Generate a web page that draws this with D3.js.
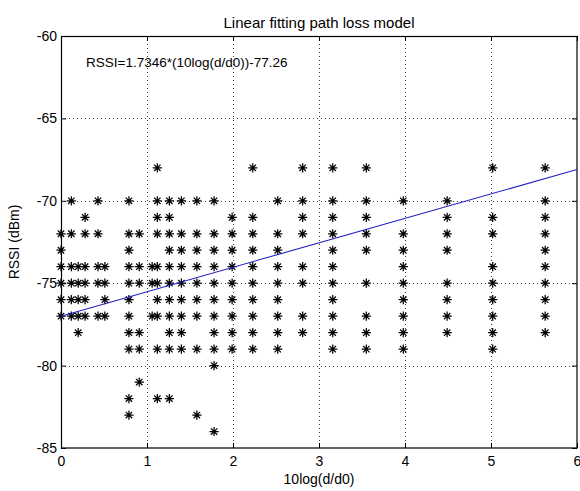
<!DOCTYPE html>
<html>
<head>
<meta charset="utf-8">
<script src="https://cdn.jsdelivr.net/npm/d3@7"></script>
<style>
  html, body { margin: 0; padding: 0; background: #ffffff; }
  svg { display: block; }
  text { font-family: "Liberation Sans", Arial, Helvetica, sans-serif; fill: #000; }
</style>
</head>
<body>
<svg id="chart" width="580" height="491"></svg>
<script>
// ---- Data ----
const titleText = "Linear fitting path loss model";
const xLabelText = "10log(d/d0)";
const yLabelText = "RSSI (dBm)";
const equationText = "RSSI=1.7346*(10log(d/d0))-77.26";

const xTicks = [0, 1, 2, 3, 4, 5, 6];
const yTicks = [-85, -80, -75, -70, -65, -60];

// distinct 10log(d/d0) positions of the measurement columns
const xValues = [0, 0.12, 0.20, 0.28, 0.43, 0.51, 0.79, 0.91, 1.06, 1.12, 1.26, 1.40,
                 1.58, 1.78, 1.99, 2.23, 2.52, 2.81, 3.16, 3.55, 3.98, 4.49, 5.02, 5.63];
// RSSI values observed at each column (same order as xValues)
const rssiValues = [
  [-72, -73, -74, -75, -76, -77],
  [-70, -72, -74, -75, -76, -77],
  [-74, -75, -76, -77, -78],
  [-71, -72, -74, -75, -76, -77],
  [-70, -72, -74, -75, -77],
  [-74, -75, -76, -77],
  [-70, -72, -73, -74, -75, -76, -77, -78, -79, -82, -83],
  [-72, -74, -75, -78, -79, -81],
  [-74, -75, -77],
  [-68, -70, -71, -72, -74, -75, -76, -77, -79, -82],
  [-70, -71, -72, -73, -74, -75, -76, -77, -78, -79, -82],
  [-70, -72, -73, -74, -75, -76, -77, -78, -79],
  [-70, -72, -73, -74, -75, -76, -77, -79, -83],
  [-70, -72, -73, -74, -75, -76, -77, -78, -79, -80, -84],
  [-71, -72, -73, -74, -75, -76, -77, -78, -79],
  [-68, -71, -72, -73, -74, -75, -76, -77, -78, -79],
  [-70, -72, -73, -74, -75, -76, -77, -78, -79],
  [-68, -70, -71, -72, -74, -75, -77, -78],
  [-68, -70, -71, -72, -73, -74, -75, -76, -77, -78, -79],
  [-68, -70, -71, -72, -73, -75, -77, -78, -79],
  [-70, -72, -73, -74, -75, -76, -77, -78, -79],
  [-70, -71, -72, -73, -75, -76, -77, -78],
  [-68, -71, -72, -74, -75, -76, -77, -78, -79],
  [-68, -70, -71, -72, -73, -74, -75, -76, -77, -78]
];

// fitted line as drawn in the picture (end points)
const fitX = [0, 6];
const fitY = [-77.0, -68.1];

// ---- Layout ----
const W = 580, H = 491;
const margin = { left: 61, right: 3, top: 36, bottom: 43 };
const pw = W - margin.left - margin.right;
const ph = H - margin.top - margin.bottom;

const svg = d3.select("#chart");
const g = svg.append("g").attr("transform", `translate(${margin.left},${margin.top})`);

const x = d3.scaleLinear().domain([0, 6]).range([0, pw]);
const y = d3.scaleLinear().domain([-85, -60]).range([ph, 0]);

const fmt = v => String(v); // plain hyphen-minus like the reference

// white plot background
g.append("rect").attr("width", pw).attr("height", ph).attr("fill", "#fff");

// dotted grid
const grid = g.append("g").attr("stroke", "#000").attr("stroke-width", 1)
  .attr("stroke-dasharray", "1,3").attr("opacity", 0.75);
grid.selectAll(".gx").data(xTicks.slice(1, -1)).enter().append("line")
  .attr("x1", d => Math.round(x(d)) + 0.5).attr("x2", d => Math.round(x(d)) + 0.5)
  .attr("y1", 0).attr("y2", ph);
grid.selectAll(".gy").data(yTicks.slice(1, -1)).enter().append("line")
  .attr("y1", d => Math.round(y(d)) + 0.5).attr("y2", d => Math.round(y(d)) + 0.5)
  .attr("x1", 0).attr("x2", pw);

// axes
const tickLen = 5;
const xAxis = d3.axisBottom(x).tickValues(xTicks).tickFormat(fmt)
  .tickSizeInner(-tickLen).tickSizeOuter(0).tickPadding(8);
const yAxis = d3.axisLeft(y).tickValues(yTicks).tickFormat(fmt)
  .tickSizeInner(-tickLen).tickSizeOuter(0).tickPadding(4);
const xAxisTop = d3.axisTop(x).tickValues(xTicks).tickFormat("")
  .tickSizeInner(-tickLen).tickSizeOuter(0);
const yAxisRight = d3.axisRight(y).tickValues(yTicks).tickFormat("")
  .tickSizeInner(-tickLen).tickSizeOuter(0);

function styleAxis(sel) {
  sel.select(".domain").remove();
  sel.selectAll("line").attr("stroke", "#000");
  sel.selectAll("text").attr("font-size", 14).attr("fill", "#000")
    .style("font-family", '"Liberation Sans", Arial, sans-serif');
}
g.append("g").attr("transform", `translate(0,${ph})`).call(xAxis).call(styleAxis);
g.append("g").call(yAxis).call(styleAxis);
g.append("g").call(xAxisTop).call(styleAxis);
g.append("g").attr("transform", `translate(${pw},0)`).call(yAxisRight).call(styleAxis);

// box
g.append("rect").attr("x", 0.5).attr("y", 0.5).attr("width", pw - 0.5).attr("height", ph - 0.5)
  .attr("fill", "none").attr("stroke", "#000").attr("stroke-width", 1.2);

// scatter points (asterisk markers)
const points = [];
xValues.forEach((xv, i) => rssiValues[i].forEach(r => points.push({ x: xv, y: r })));
const s = 4.6, d = 3.2;
const starPath = `M${-s},0L${s},0M0,${-s}L0,${s}M${-d},${-d}L${d},${d}M${-d},${d}L${d},${-d}`;
g.append("g").selectAll("path").data(points).enter().append("path")
  .attr("transform", p => `translate(${x(p.x)},${y(p.y)})`)
  .attr("d", starPath).attr("stroke", "#000").attr("stroke-width", 1.25).attr("fill", "none");

// fitted line
const line = d3.line().x(p => x(p[0])).y(p => y(p[1]));
g.append("path").datum(fitX.map((v, i) => [v, fitY[i]]))
  .attr("d", line).attr("stroke", "#2020c0").attr("stroke-width", 1.1).attr("fill", "none");

// equation annotation
g.append("text").attr("x", 25).attr("y", 31).attr("font-size", 13.5)
  .text(equationText);

// title and labels
svg.append("text").attr("x", margin.left + pw / 2).attr("y", 28).attr("text-anchor", "middle")
  .attr("font-size", 15).text(titleText);
svg.append("text").attr("x", margin.left + pw / 2).attr("y", 484).attr("text-anchor", "middle")
  .attr("font-size", 14).text(xLabelText);
svg.append("text").attr("transform", `translate(19,${margin.top + ph / 2}) rotate(-90)`)
  .attr("text-anchor", "middle").attr("font-size", 14).text(yLabelText);
</script>
</body>
</html>
